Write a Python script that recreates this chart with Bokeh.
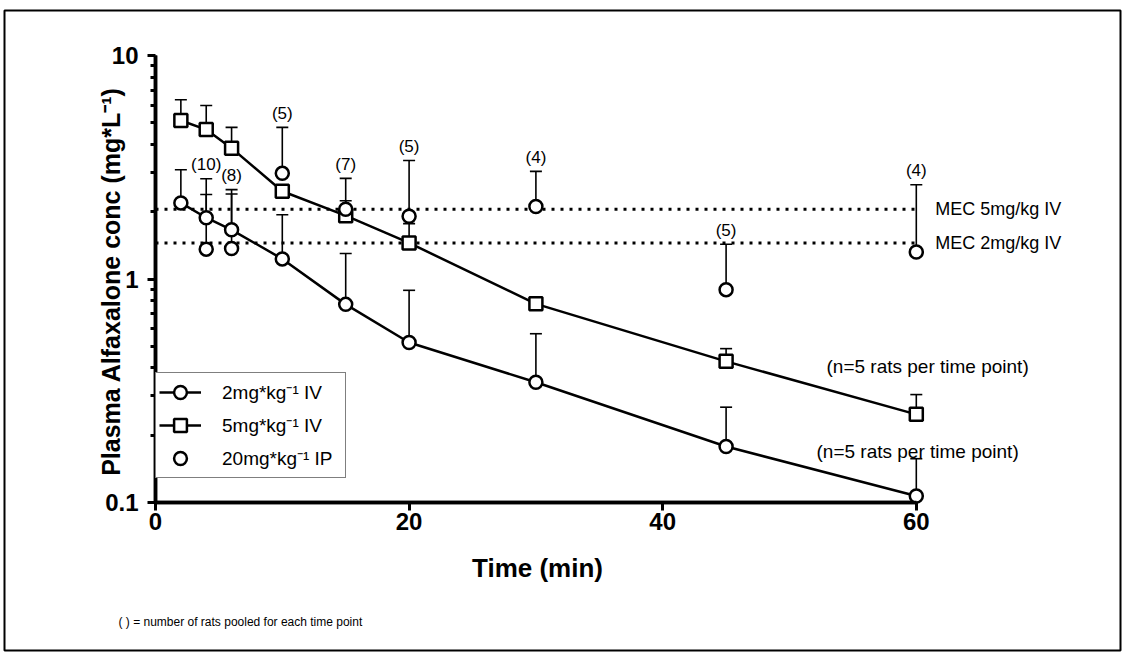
import math
from bokeh.plotting import figure
from bokeh.models import (Range1d, LinearAxis, LogAxis, FixedTicker, Whisker, TeeHead,
                          ColumnDataSource, Legend, LegendItem, Label, BoxAnnotation)
from bokeh.core.properties import value
from bokeh.embed import file_html
from bokeh.resources import INLINE

# ---------------- data ----------------
times_iv = [2, 4, 6, 10, 15, 20, 30, 45, 60]
conc_2mg = [2.19, 1.88, 1.66, 1.23, 0.77, 0.52, 0.345, 0.178, 0.107]
top_2mg = [3.08, 2.39, 2.40, 1.94, 1.30, 0.89, 0.569, 0.267, 0.157]
conc_5mg = [5.12, 4.66, 3.85, 2.47, 1.92, 1.45, 0.774, 0.428, 0.248]
top_5mg = [6.34, 5.97, 4.77, 2.60, 2.24, 1.77, 0.80, 0.488, 0.304]

times_ip = [4, 6, 10, 15, 20, 30, 45, 60]
conc_20mg = [1.36, 1.37, 2.97, 2.05, 1.91, 2.11, 0.896, 1.32]
top_20mg = [2.81, 2.51, 4.77, 2.82, 3.39, 3.03, 1.43, 2.64]
n_rats = ["(10)", "(8)", "(5)", "(7)", "(5)", "(4)", "(5)", "(4)"]

mec_values = [2.05, 1.45]
mec_labels = ["MEC 5mg/kg IV", "MEC 2mg/kg IV"]
x_ticks = [0, 20, 40, 60]
y_ticks = [0.1, 1, 10]
y_tick_labels = ["0.1", "1", "10"]

# ---------------- pixel <-> data helpers (layout only) ----------------
W, H = 1122, 652
X0, XS = 155.0, 12.68          # px of t=0, px per minute
Y10, DEC = 55.0, 223.5          # px of 10, px per decade

def px2x(px):
    return (px - X0) / XS

def py2y(py):
    return 10 ** (1 - (py - Y10) / DEC)

FONT = "Liberation Sans"

p = figure(width=W, height=H, x_range=Range1d(px2x(0), px2x(W)),
           y_range=Range1d(py2y(H), py2y(0)), y_axis_type="log",
           x_axis_location=None, y_axis_location=None,
           toolbar_location=None, output_backend="svg", min_border=0,
           outline_line_color=None, background_fill_color="white",
           border_fill_color="white")
p.xgrid.visible = False
p.ygrid.visible = False

# ---------------- axes ----------------
minor = [m * d for d in (0.1, 1) for m in range(2, 10)]
yaxis = LogAxis(fixed_location=x_ticks[0], bounds=(y_ticks[0], y_ticks[-1]),
                ticker=FixedTicker(ticks=y_ticks, minor_ticks=minor))
yaxis.major_label_overrides = {t: l for t, l in zip(y_ticks, y_tick_labels)}
xaxis = LinearAxis(fixed_location=y_ticks[0], bounds=(x_ticks[0], x_ticks[-1]),
                   ticker=FixedTicker(ticks=x_ticks, minor_ticks=[]))
for ax in (xaxis, yaxis):
    ax.axis_line_width = 3.5
    ax.axis_line_color = "black"
    ax.major_tick_line_width = 3
    ax.minor_tick_line_width = 3
    ax.major_tick_line_color = "black"
    ax.minor_tick_line_color = "black"
    ax.major_tick_in = 0
    ax.major_tick_out = 8
    ax.minor_tick_in = 0
    ax.minor_tick_out = 5
    ax.major_label_text_font = FONT
    ax.major_label_text_font_style = "bold"
    ax.major_label_text_font_size = "24px"
    ax.major_label_text_color = "black"
xaxis.major_label_standoff = 2
yaxis.major_label_standoff = 9
p.add_layout(yaxis, "left")
p.add_layout(xaxis, "below")

# reinforce the axis spines (same extent as the axes' bounds)
p.line(x=[x_ticks[0], x_ticks[-1]], y=[y_ticks[0], y_ticks[0]], line_color="black",
       line_width=3.5)
p.line(x=[x_ticks[0], x_ticks[0]], y=[y_ticks[0], y_ticks[-1]], line_color="black",
       line_width=3.5)

# ---------------- MEC reference lines ----------------
p.multi_line(xs=[[0, 60] for _ in mec_values], ys=[[v, v] for v in mec_values],
             line_color="black", line_width=3, line_dash="3 6")
p.text(x=[60, 60], y=mec_values, text=mec_labels, x_offset=19,
       text_align="left", text_baseline="middle", text_font=value(FONT),
       text_font_size="18px", text_color="black")

# ---------------- error bars ----------------
src2 = ColumnDataSource(dict(t=times_iv, v=conc_2mg, top=top_2mg))
src5 = ColumnDataSource(dict(t=times_iv, v=conc_5mg, top=top_5mg))
src20 = ColumnDataSource(dict(t=times_ip, v=conc_20mg, top=top_20mg, n=n_rats))
for src in (src2, src5, src20):
    w = Whisker(source=src, base="t", lower="v", upper="top", dimension="height",
                line_width=1.6, line_color="black", lower_head=None,
                upper_head=TeeHead(size=12, line_width=1.6, line_color="black"),
                level="underlay")
    p.add_layout(w)

# ---------------- series ----------------
l2 = p.line("t", "v", source=src2, line_color="black", line_width=2.5)
l5 = p.line("t", "v", source=src5, line_color="black", line_width=2.5)
s2 = p.scatter("t", "v", source=src2, marker="circle", size=13, fill_color="white",
               line_color="black", line_width=2.5)
s5 = p.scatter("t", "v", source=src5, marker="square", size=13, fill_color="white",
               line_color="black", line_width=2.5)
s20 = p.scatter("t", "v", source=src20, marker="circle", size=13, fill_color="white",
                line_color="black", line_width=2.5)

p.text("t", "top", text="n", source=src20, y_offset=-14, text_align="center",
       text_baseline="middle", text_font=value(FONT), text_font_size="17px",
       text_color="black")

# ---------------- legend ----------------
legend = Legend(items=[LegendItem(label="2mg*kg⁻¹ IV", renderers=[l2, s2]),
                       LegendItem(label="5mg*kg⁻¹ IV", renderers=[l5, s5]),
                       LegendItem(label="20mg*kg⁻¹ IP", renderers=[s20])],
                location=(X0, H - 478), margin=0, padding=3, spacing=1,
                glyph_width=42, glyph_height=32, label_standoff=21, label_width=120,
                label_text_font=FONT, label_text_font_size="19px",
                label_text_color="black", border_line_color="black",
                border_line_width=1.5, background_fill_color="white",
                background_fill_alpha=1)
p.add_layout(legend)

# ---------------- titles / notes ----------------
p.add_layout(Label(x=px2x(537), y=py2y(567), text="Time (min)", text_align="center",
                   text_baseline="middle", text_font=FONT, text_font_style="bold",
                   text_font_size="26px", text_color="black"))
p.add_layout(Label(x=px2x(110), y=py2y(281), text="Plasma Alfaxalone conc (mg*L⁻¹)",
                   angle=math.pi / 2, text_align="center", text_baseline="middle",
                   text_font=FONT, text_font_style="bold", text_font_size="25px",
                   text_color="black"))
p.add_layout(Label(x=px2x(826), y=py2y(366), text="(n=5 rats per time point)",
                   text_align="left", text_baseline="middle", text_font=FONT,
                   text_font_size="19px", text_color="black"))
p.add_layout(Label(x=px2x(816), y=py2y(451), text="(n=5 rats per time point)",
                   text_align="left", text_baseline="middle", text_font=FONT,
                   text_font_size="19px", text_color="black"))
p.add_layout(Label(x=px2x(118), y=py2y(621), text="( ) = number of rats pooled for each time point",
                   text_align="left", text_baseline="middle", text_font=FONT,
                   text_font_size="12px", text_color="black"))

# outer frame
p.add_layout(BoxAnnotation(left=px2x(4), right=px2x(1120), top=py2y(10), bottom=py2y(650),
                           fill_color=None, fill_alpha=0, line_color="black",
                           line_alpha=1, line_width=2))

open("out.html", "w").write(file_html(p, INLINE))
